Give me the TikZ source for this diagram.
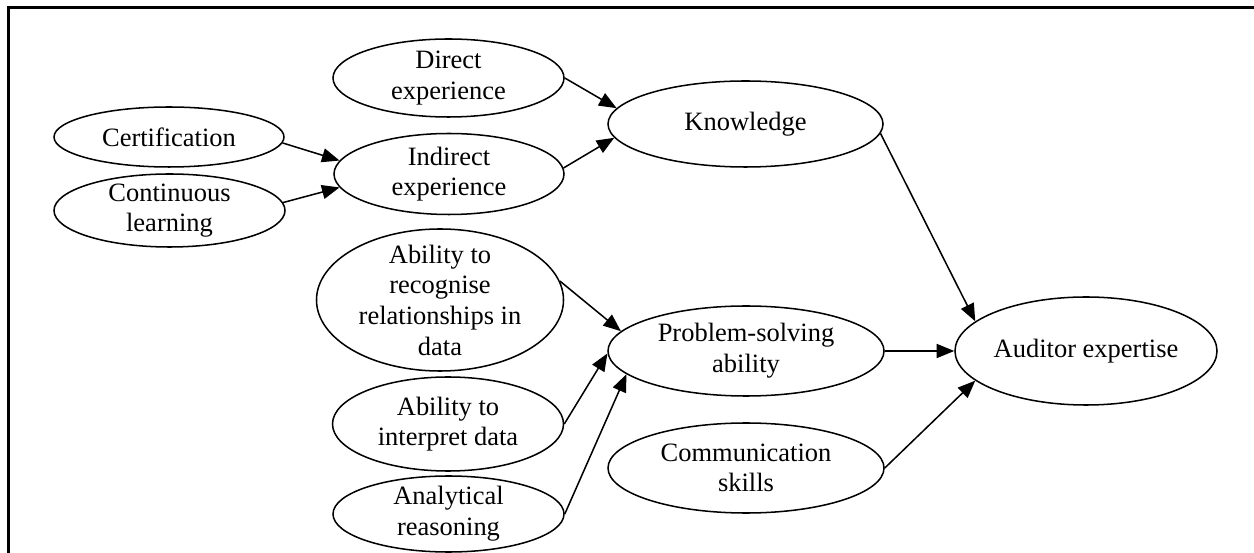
\documentclass[tikz,border=0pt]{standalone}
\usepackage{fontspec}
\setmainfont{Liberation Serif}
\usetikzlibrary{shapes.geometric,arrows.meta}

\begin{document}
\begin{tikzpicture}[x=0.015cm,y=-0.015cm,
  elipse/.style={draw,ellipse,inner sep=-25pt,align=center,line width=0.65pt,
    font=\fontsize{11.3}{13.1}\selectfont},
  seta/.style={-{Triangle[length=7.5pt,width=6pt]},line width=0.65pt}]
\useasboundingbox (0,0) rectangle (1254,553);

% moldura
\draw[line width=1pt] (1254,7.5) -- (8.5,7.5) -- (8.5,553);

% coluna 1
\node[elipse,minimum width=3.45cm,minimum height=0.9cm] (cert) at (169,137) {Certification};
\node[elipse,minimum width=3.465cm,minimum height=1.095cm] (cont) at (169.5,210.5) {Continuous\\learning};

% coluna 2
\node[elipse,minimum width=3.465cm,minimum height=1.17cm] (direct) at (448.5,78) {Direct\\experience};
\node[elipse,minimum width=3.45cm,minimum height=1.215cm] (indirect) at (449,174) {Indirect\\experience};
\node[elipse,minimum width=3.705cm,minimum height=2.13cm] (recog) at (440,300) {Ability to\\recognise\\relationships in\\data};
\node[elipse,minimum width=3.465cm,minimum height=1.41cm] (interp) at (448,424) {Ability to\\interpret data};
\node[elipse,minimum width=3.465cm,minimum height=1.14cm] (analyt) at (448.5,514) {Analytical\\reasoning};

% coluna 3
\node[elipse,minimum width=4.125cm,minimum height=1.29cm] (know) at (745.5,124) {Knowledge};
\node[elipse,minimum width=4.14cm,minimum height=1.35cm] (prob) at (746,351) {Problem-solving\\ability};
\node[elipse,minimum width=4.14cm,minimum height=1.35cm] (comm) at (746,468) {Communication\\skills};

% coluna 4
\node[elipse,minimum width=3.93cm,minimum height=1.62cm] (aud) at (1086,351) {Auditor expertise};

% setas
\draw[seta] (cert.-3) -- (indirect.173);
\draw[seta] (cont.4) -- (indirect.187);
\draw[seta] (direct.east) -- (know.173);
\draw[seta] (indirect.3) -- (know.186);
\draw[seta] (know.-4) -- (aud.165);
\draw[seta] (recog.9) -- (prob.171);
\draw[seta] (interp.east) -- (prob.181);
\draw[seta] (analyt.east) -- (prob.191);
\draw[seta] (prob.east) -- (aud.west);
\draw[seta] (comm.east) -- (aud.195);

\end{tikzpicture}
\end{document}
